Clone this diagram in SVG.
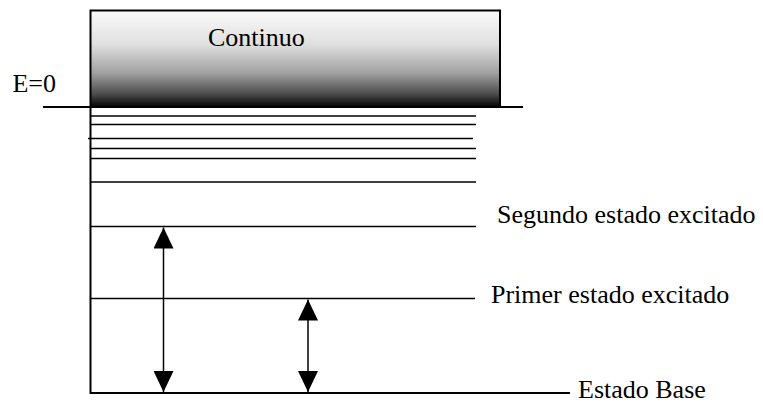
<svg xmlns="http://www.w3.org/2000/svg" width="763" height="404" viewBox="0 0 763 404">
<defs>
<linearGradient id="cont" x1="0" y1="0" x2="0" y2="1">
<stop offset="0" stop-color="#fafafa"/>
<stop offset="0.35" stop-color="#e0e0e0"/>
<stop offset="0.65" stop-color="#a0a0a0"/>
<stop offset="0.87" stop-color="#4a4a4a"/>
<stop offset="1" stop-color="#000000"/>
</linearGradient>
<marker id="ah" viewBox="0 0 21 20" refX="21" refY="10" markerWidth="21" markerHeight="20" markerUnits="userSpaceOnUse" orient="auto-start-reverse">
<path d="M0,0 L21,10 L0,20 Z" fill="#000"/>
</marker>
<style>
.lvl{stroke:#000;stroke-width:1.6;fill:none}
text{font-family:'Liberation Serif','Times New Roman',Times,'DejaVu Serif',serif;font-size:26px;fill:#000}
.arr{stroke:#000;stroke-width:1.5;fill:none}
</style>
</defs>
<rect width="763" height="404" fill="#fff"/>
<g id="continuo">
<rect x="90.5" y="10.5" width="409.5" height="96.5" fill="url(#cont)" stroke="#000" stroke-width="2"/>
<text x="208" y="46" font-family="Liberation Serif, Times New Roman, serif">Continuo</text>
</g>
<g id="e0">
<line x1="43" y1="107" x2="523" y2="107" stroke="#000" stroke-width="2"/>
<text x="56" y="92" text-anchor="end" font-family="Liberation Serif, Times New Roman, serif">E=0</text>
</g>
<g id="axis">
<line x1="90.5" y1="106" x2="90.5" y2="394" stroke="#000" stroke-width="2"/>
</g>
<g id="levels">
<line class="lvl" x1="90" y1="116" x2="476" y2="116"/>
<line class="lvl" x1="90" y1="124.5" x2="476" y2="124.5"/>
<line class="lvl" x1="88" y1="138.5" x2="473" y2="138.5"/>
<line class="lvl" x1="90" y1="148.5" x2="476" y2="148.5"/>
<line class="lvl" x1="90" y1="158.5" x2="476" y2="158.5"/>
<line class="lvl" x1="90" y1="182" x2="476" y2="182"/>
</g>
<g id="segundo">
<line class="lvl" x1="90" y1="226.5" x2="476" y2="226.5"/>
<text x="497" y="223" font-family="Liberation Serif, Times New Roman, serif">Segundo estado excitado</text>
</g>
<g id="primer">
<line class="lvl" x1="90" y1="298.5" x2="475" y2="298.5"/>
<text x="491" y="303" font-family="Liberation Serif, Times New Roman, serif">Primer estado excitado</text>
</g>
<g id="base">
<line x1="90" y1="393" x2="570" y2="393" stroke="#000" stroke-width="2.2"/>
<text x="578" y="398" font-family="Liberation Serif, Times New Roman, serif">Estado Base</text>
</g>
<g id="connectors">
<line class="arr" x1="163.5" y1="227.5" x2="163.5" y2="392" marker-start="url(#ah)" marker-end="url(#ah)"/>
<line class="arr" x1="308" y1="299.5" x2="308" y2="392" marker-start="url(#ah)" marker-end="url(#ah)"/>
</g>
</svg>
